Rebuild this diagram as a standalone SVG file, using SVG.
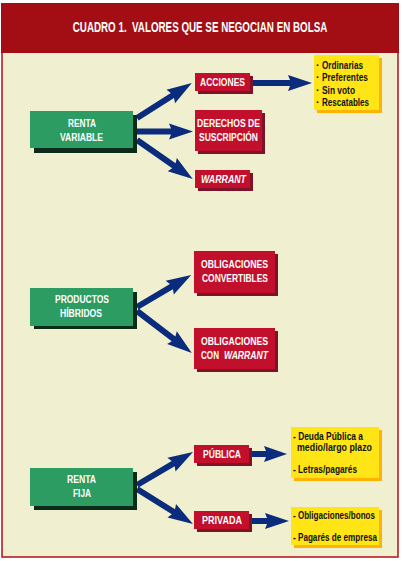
<svg xmlns="http://www.w3.org/2000/svg" width="402" height="561" viewBox="0 0 402 561">
<style>
text{font-family:"Liberation Sans",Arial,sans-serif;font-weight:bold;}
.g{fill:#2c9c62}.gs{fill:#0c2a1a}
.r{fill:#c20f2b}.rs{fill:#7c1328}
.y{fill:#ffe416}.ys{fill:#ffb300}
.w{fill:#ffffff;font-size:11px;text-anchor:middle}
.k{fill:#111111;font-size:10.5px}
.a{fill:#0b2c7c}
</style>
<rect x="0" y="0" width="402" height="561" fill="#ffffff"/>
<rect x="2" y="52" width="396" height="505" fill="#f0efcf" stroke="#b0101a" stroke-width="1.5"/>
<rect x="1" y="3" width="398" height="50" fill="#a20e14"/>
<g transform="translate(200,32) scale(0.7,1)">
<text x="0" y="0" fill="#ffffff" font-size="14" text-anchor="middle" xml:space="preserve">CUADRO 1.  VALORES QUE SE NEGOCIAN EN BOLSA</text>
</g>

<g id="connectors">
<path class="a" transform="translate(137,118) rotate(-32.5)" d="M0,-3 H42 L40,-8 L65,0 L40,8 L42,3 H0 Z"/>
<path class="a" transform="translate(137,131.5) rotate(0)" d="M0,-3 H34 L32,-8 L56,0 L32,8 L34,3 H0 Z"/>
<path class="a" transform="translate(137,140) rotate(34.9)" d="M0,-3 H45 L43,-8 L68,0 L43,8 L45,3 H0 Z"/>
<path class="a" transform="translate(252,83) rotate(0)" d="M0,-3 H38 L36,-8 L60,0 L36,8 L38,3 H0 Z"/>
<path class="a" transform="translate(137,307) rotate(-30.6)" d="M0,-3 H40 L38,-8 L63,0 L38,8 L40,3 H0 Z"/>
<path class="a" transform="translate(137,311) rotate(37.4)" d="M0,-3 H46 L44,-8 L69,0 L44,8 L46,3 H0 Z"/>
<path class="a" transform="translate(137,485) rotate(-30.5)" d="M0,-3 H42 L40,-8 L65,0 L40,8 L42,3 H0 Z"/>
<path class="a" transform="translate(137,489) rotate(32)" d="M0,-3 H43 L41,-8 L66,0 L41,8 L43,3 H0 Z"/>
<path class="a" transform="translate(252,454) rotate(0)" d="M0,-3 H14 L12,-8 L35,0 L12,8 L14,3 H0 Z"/>
<path class="a" transform="translate(252,521) rotate(0)" d="M0,-3 H15 L13,-8 L37,0 L13,8 L15,3 H0 Z"/>
</g>

<g id="renta-variable">
<rect class="gs" x="34" y="115" width="103" height="38"/>
<rect class="g" x="30" y="111" width="103" height="37"/>
<text class="w" x="82" y="127" textLength="28" lengthAdjust="spacingAndGlyphs">RENTA</text>
<text class="w" x="81.5" y="141" textLength="43" lengthAdjust="spacingAndGlyphs">VARIABLE</text>
</g>
<g id="acciones">
<rect class="rs" x="198" y="76" width="55" height="18"/>
<rect class="r" x="195" y="73" width="55" height="18"/>
<text class="w" x="222.5" y="86" textLength="45" lengthAdjust="spacingAndGlyphs">ACCIONES</text>
</g>
<g id="derechos">
<rect class="rs" x="198" y="113" width="67" height="41"/>
<rect class="r" x="195" y="110" width="67" height="41"/>
<text class="w" x="228.5" y="127" textLength="63" lengthAdjust="spacingAndGlyphs">DERECHOS DE</text>
<text class="w" x="228.5" y="141" textLength="59" lengthAdjust="spacingAndGlyphs">SUSCRIPCIÓN</text>
</g>
<g id="warrant">
<rect class="rs" x="198" y="173" width="55" height="18"/>
<rect class="r" x="195" y="170" width="55" height="18"/>
<text class="w" x="223.5" y="183" font-style="italic" textLength="45" lengthAdjust="spacingAndGlyphs">WARRANT</text>
</g>
<g id="acciones-tipos">
<rect class="ys" x="317" y="58" width="65" height="55"/>
<rect class="y" x="314" y="55" width="65" height="55"/>
<text class="k" x="316" y="69">·</text><text class="k" x="322" y="69" textLength="41" lengthAdjust="spacingAndGlyphs">Ordinarias</text>
<text class="k" x="316" y="81">·</text><text class="k" x="322" y="81" textLength="46" lengthAdjust="spacingAndGlyphs">Preferentes</text>
<text class="k" x="316" y="93.5">·</text><text class="k" x="322" y="93.5" textLength="33" lengthAdjust="spacingAndGlyphs">Sin voto</text>
<text class="k" x="316" y="105.5">·</text><text class="k" x="322" y="105.5" textLength="47" lengthAdjust="spacingAndGlyphs">Rescatables</text>
</g>

<g id="productos-hibridos">
<rect class="gs" x="34" y="292" width="103" height="37"/>
<rect class="g" x="30" y="288" width="103" height="38"/>
<text class="w" x="82" y="303" textLength="54" lengthAdjust="spacingAndGlyphs">PRODUCTOS</text>
<text class="w" x="81" y="317" textLength="42" lengthAdjust="spacingAndGlyphs">HÍBRIDOS</text>
</g>
<g id="oblig-convertibles">
<rect class="rs" x="197" y="254" width="81" height="42"/>
<rect class="r" x="194" y="251" width="81" height="42"/>
<text class="w" x="234.5" y="268" textLength="67" lengthAdjust="spacingAndGlyphs">OBLIGACIONES</text>
<text class="w" x="235" y="282" textLength="66" lengthAdjust="spacingAndGlyphs">CONVERTIBLES</text>
</g>
<g id="oblig-warrant">
<rect class="rs" x="197" y="331" width="81" height="41"/>
<rect class="r" x="194" y="328" width="81" height="41"/>
<text class="w" x="234.5" y="345" textLength="67" lengthAdjust="spacingAndGlyphs">OBLIGACIONES</text>
<text class="w" x="210" y="359" textLength="18" lengthAdjust="spacingAndGlyphs">CON</text>
<text class="w" x="246" y="359" font-style="italic" textLength="44" lengthAdjust="spacingAndGlyphs">WARRANT</text>
</g>

<g id="renta-fija">
<rect class="gs" x="34" y="472" width="103" height="38"/>
<rect class="g" x="30" y="468" width="103" height="38"/>
<text class="w" x="81.5" y="483" textLength="29" lengthAdjust="spacingAndGlyphs">RENTA</text>
<text class="w" x="82" y="497" textLength="18" lengthAdjust="spacingAndGlyphs">FIJA</text>
</g>
<g id="publica">
<rect class="rs" x="197" y="448" width="55" height="18"/>
<rect class="r" x="194" y="445" width="55" height="18"/>
<text class="w" x="222" y="458" textLength="38" lengthAdjust="spacingAndGlyphs">PÚBLICA</text>
</g>
<g id="privada">
<rect class="rs" x="197" y="514" width="55" height="18"/>
<rect class="r" x="194" y="511" width="55" height="18"/>
<text class="w" x="222" y="524" textLength="40" lengthAdjust="spacingAndGlyphs">PRIVADA</text>
</g>
<g id="publica-tipos">
<rect class="ys" x="294" y="430" width="88" height="51"/>
<rect class="y" x="291" y="427" width="88" height="51"/>
<text class="k" x="293" y="440" textLength="70" lengthAdjust="spacingAndGlyphs">- Deuda Pública a</text>
<text class="k" x="297" y="451" textLength="75" lengthAdjust="spacingAndGlyphs">medio/largo plazo</text>
<text class="k" x="293" y="473" textLength="64" lengthAdjust="spacingAndGlyphs">- Letras/pagarés</text>
</g>
<g id="privada-tipos">
<rect class="ys" x="294" y="510" width="88" height="38"/>
<rect class="y" x="291" y="507" width="88" height="38"/>
<text class="k" x="293" y="519" textLength="82" lengthAdjust="spacingAndGlyphs">- Obligaciones/bonos</text>
<text class="k" x="293" y="541" textLength="84" lengthAdjust="spacingAndGlyphs">- Pagarés de empresa</text>
</g>
</svg>
